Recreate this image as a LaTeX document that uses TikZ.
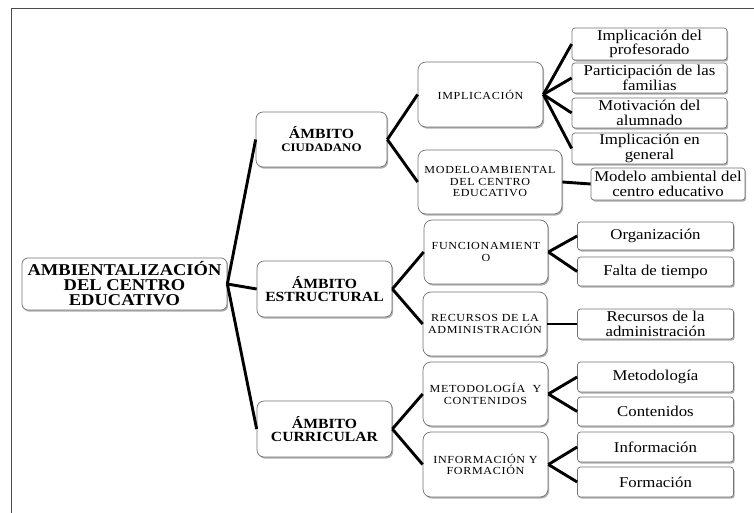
\documentclass[tikz,border=0pt]{standalone}
\usepackage{fontspec}
\setmainfont{Liberation Serif}[FakeStretch=1.12]
\newfontfamily\capsfont{Liberation Serif}[FakeStretch=1.12, LetterSpace=6]
\usetikzlibrary{shadows}
\begin{document}
\begin{tikzpicture}[x=1pt, y=-1pt,
  boxbase/.style={draw=black!55, line width=0.7pt, fill=white, align=center, inner sep=0pt,
    drop shadow={shadow xshift=1.2pt, shadow yshift=-1.6pt, fill=black!45, opacity=0.7}},
  rootbox/.style={boxbase, rounded corners=6pt, font=\bfseries\fontsize{16.5}{15}\selectfont},
  ambbox/.style={boxbase, rounded corners=7pt, font=\bfseries\fontsize{14}{13}\selectfont},
  midbox/.style={boxbase, rounded corners=8pt, font=\capsfont\fontsize{10.8}{11.5}\selectfont},
  leafbox/.style={boxbase, rounded corners=3pt, font=\fontsize{15}{14.5}\selectfont},
  link/.style={line width=2.9pt, black, line join=round}
]
\useasboundingbox (0,0) rectangle (754,513);
\draw[black!70, line width=0.8pt] (11,513) -- (11,8) -- (754,8);

% root
\node[rootbox, minimum width=205pt, minimum height=52pt] (root) at (124.5,284) {AMBIENTALIZACIÓN\\DEL CENTRO\\EDUCATIVO};

% level 1
\node[ambbox, minimum width=131pt, minimum height=55pt] (ciu) at (321.5,139.5) {ÁMBITO\\{\fontsize{11.5}{12}\selectfont CIUDADANO}};
\node[ambbox, minimum width=135pt, minimum height=56pt] (est) at (324.5,289) {ÁMBITO\\ESTRUCTURAL};
\node[ambbox, minimum width=135pt, minimum height=56pt] (cur) at (324.5,429) {ÁMBITO\\CURRICULAR};

% level 2
\node[midbox, minimum width=125pt, minimum height=65pt] (imp) at (480.5,94.5) {IMPLICACIÓN};
\node[midbox, minimum width=144pt, minimum height=64pt] (mod) at (490,182) {MODELOAMBIENTAL\\DEL CENTRO\\EDUCATIVO};
\node[midbox, minimum width=124pt, minimum height=64pt] (fun) at (486,252) {FUNCIONAMIENT\\O};
\node[midbox, minimum width=124pt, minimum height=64pt] (rec) at (485,324) {RECURSOS DE LA\\ADMINISTRACIÓN};
\node[midbox, minimum width=125pt, minimum height=64pt] (met) at (485.5,394) {METODOLOGÍA\ \ Y\\CONTENIDOS};
\node[midbox, minimum width=125pt, minimum height=65pt] (inf) at (485.5,464.5) {INFORMACIÓN Y\\FORMACIÓN};

% leaves
\node[leafbox, minimum width=155pt, minimum height=32pt] (l1) at (649.5,44) {Implicación del\\profesorado};
\node[leafbox, minimum width=155pt, minimum height=30pt] (l2) at (649.5,78) {Participación de las\\familias};
\node[leafbox, minimum width=155pt, minimum height=30pt] (l3) at (649.5,113) {Motivación del\\alumnado};
\node[leafbox, minimum width=155pt, minimum height=31pt] (l4) at (649.5,148.5) {Implicación en\\general};
\node[leafbox, minimum width=154pt, minimum height=32pt] (l5) at (668,184) {Modelo ambiental del\\centro educativo};
\node[leafbox, minimum width=156pt, minimum height=28pt] (l6) at (655.5,236) {Organización};
\node[leafbox, minimum width=156pt, minimum height=29pt] (l7) at (655.5,271.5) {Falta de tiempo};
\node[leafbox, minimum width=156pt, minimum height=30pt] (l8) at (655.5,324) {Recursos de la\\administración};
\node[leafbox, minimum width=156pt, minimum height=30pt] (l9) at (655.5,377) {Metodología};
\node[leafbox, minimum width=156pt, minimum height=29pt] (l10) at (655.5,411.5) {Contenidos};
\node[leafbox, minimum width=156pt, minimum height=30pt] (l11) at (655.5,447) {Información};
\node[leafbox, minimum width=156pt, minimum height=30pt] (l12) at (655.5,482) {Formación};

% connectors
\foreach \t in {ciu,est,cur} \draw[link] (root.east) -- (\t.west);
\draw[link] (ciu.east) -- (imp.west);
\draw[link] (ciu.east) -- (mod.west);
\draw[link] (est.east) -- (fun.west);
\draw[link] (est.east) -- (rec.west);
\draw[link] (cur.east) -- (met.west);
\draw[link] (cur.east) -- (inf.west);
\foreach \t in {l1,l2,l3,l4} \draw[link] (imp.east) -- (\t.west);
\draw[link] (mod.east) -- (l5.west);
\draw[link] (fun.east) -- (l6.west);
\draw[link] (fun.east) -- (l7.west);
\draw[link] (rec.east) -- (l8.west);
\draw[link] (met.east) -- (l9.west);
\draw[link] (met.east) -- (l10.west);
\draw[link] (inf.east) -- (l11.west);
\draw[link] (inf.east) -- (l12.west);
\end{tikzpicture}
\end{document}
